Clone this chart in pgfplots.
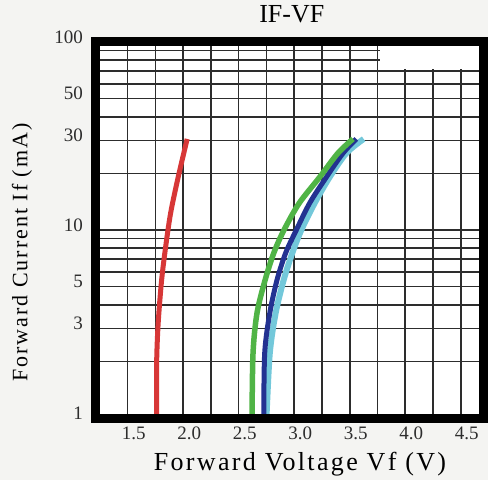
\documentclass[border=0pt]{standalone}
\usepackage{fontspec}
\setmainfont{Liberation Serif}
\newfontfamily\labfont[LetterSpace=9]{Liberation Serif}
\usepackage{pgfplots}
\pgfplotsset{compat=1.18}
\definecolor{bgc}{RGB}{244,244,242}
\definecolor{cred}{RGB}{215,55,55}
\definecolor{cgreen}{RGB}{80,180,70}
\definecolor{cnavy}{RGB}{35,50,145}
\definecolor{ccyan}{RGB}{115,200,218}
\definecolor{gridc}{RGB}{45,45,45}
\begin{document}
\begin{tikzpicture}
\fill[bgc] (-96bp,-62bp) rectangle (392bp,418bp);
\useasboundingbox (-96bp,-62bp) rectangle (392bp,418bp);
\begin{axis}[
  at={(0,0)}, anchor=south west,
  scale only axis, width=387bp, height=376bp,
  xmin=1.215, xmax=4.70,
  ymode=log, ymin=1, ymax=100,
  axis background/.style={fill=white},
  axis line style={line width=9bp, black},
  xtick={1.5,2.0,2.5,3.0,3.5,4.0,4.5},
  xticklabels={1.5,2.0,2.5,3.0,3.5,4.0,4.5},
  minor xtick={1.75,2.25,2.75,3.25,3.75,4.25},
  ytick={1,3,5,10,30,50,100},
  yticklabels={1,3,5,10,30,50,100},
  minor ytick={2,4,6,7,8,9,20,40,60,70,80,90},
  grid=both,
  major grid style={line width=1.6bp, gridc},
  minor grid style={line width=1.6bp, gridc},
  major tick length=0pt, minor tick length=0pt,
  tick style={draw=none},
  xticklabel style={font=\fontsize{19bp}{22bp}\selectfont, text=gridc, anchor=north, inner sep=0pt, yshift=-9bp, xshift=6bp},
  yticklabel style={font=\fontsize{19bp}{22bp}\selectfont, text=gridc, anchor=east, inner sep=0pt, xshift=-13bp, yshift=5bp},
  title={IF-VF},
  title style={font=\fontsize{26bp}{30bp}\selectfont, at={(axis description cs:0.506,1)}, anchor=base, yshift=14bp},
  xlabel={Forward Voltage Vf (V)},
  xlabel style={font=\labfont\fontsize{26bp}{30bp}\selectfont, at={(axis description cs:0.527,0)}, anchor=base, yshift=-52bp},
  ylabel={Forward Current If (mA)},
  every axis y label/.style={font=\labfont\fontsize{22bp}{26bp}\selectfont, at={(axis description cs:-0.191,0.44)}, rotate=90, anchor=center},
]
\fill[white] (axis cs:3.77,71.5) rectangle (axis cs:4.70,100);
\addplot[ccyan, line width=6bp, smooth] coordinates {
(2.75,1) (2.78,2.21) (2.833,3.62) (2.905,5.42) (2.983,7.55) (3.064,10) (3.184,13.9) (3.319,19.1) (3.469,25.6) (3.625,30.5)};
\addplot[cnavy, line width=5bp, smooth] coordinates {
(2.726,1) (2.734,2.21) (2.780,3.62) (2.845,5.42) (2.923,7.55) (3.019,10) (3.139,13.9) (3.289,19.1) (3.439,25.6) (3.559,30.5)};
\addplot[cgreen, line width=5.5bp, smooth] coordinates {
(2.620,1) (2.629,2.21) (2.665,3.62) (2.738,5.42) (2.816,7.55) (2.908,10) (3.045,13.9) (3.229,19.1) (3.393,25.6) (3.529,30.5)};
\addplot[cred, line width=5bp, smooth] coordinates {
(1.761,1) (1.761,1.96) (1.775,3.2) (1.806,5.42) (1.842,8.12) (1.887,12.3) (1.955,19.1) (2.036,30.5)};
\draw[line width=9bp, black] (rel axis cs:0,0) rectangle (rel axis cs:1,1);
\end{axis}
\end{tikzpicture}
\end{document}
